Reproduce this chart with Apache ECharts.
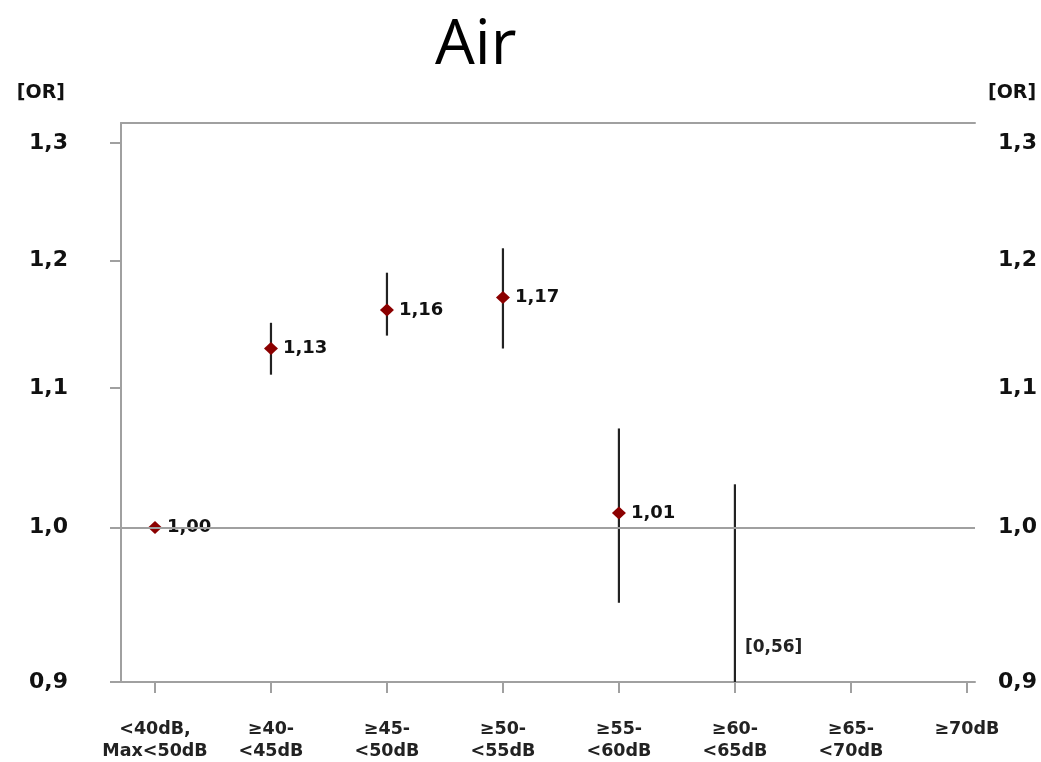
<!DOCTYPE html>
<html>
<head>
<meta charset="utf-8">
<script src="https://cdn.jsdelivr.net/npm/echarts@6/dist/echarts.min.js"></script>
<style>html,body{margin:0;padding:0;background:#fff;}#c{width:1041px;height:762px;}</style>
</head>
<body>
<div id="c"></div>
<script>
// ---- data ----
const categories = ['<40dB,\nMax<50dB', '≥40-\n<45dB', '≥45-\n<50dB', '≥50-\n<55dB', '≥55-\n<60dB', '≥60-\n<65dB', '≥65-\n<70dB', '≥70dB'];
const orValues = [1.00, 1.13, 1.16, 1.17, 1.01, 0.56, null, null];
const ciLow    = [null, 1.11, 1.14, 1.13, 0.95, 0.30, null, null];
const ciHigh   = [null, 1.15, 1.19, 1.21, 1.07, 1.03, null, null];
const yTicks = [0.9, 1.0, 1.1, 1.2, 1.3];
const refValue = 1.0;
const yMin = 0.9, yMax = 1.318;

const fmt = (v, d) => v.toFixed(d).replace('.', ',');
const ln = Math.log;

const pointData = [];
const barData = [];
categories.forEach((c, i) => {
  const v = orValues[i];
  if (v != null && v >= yMin) pointData.push([i, ln(v), v]);
  if (ciLow[i] != null) barData.push([i, ln(ciLow[i]), ln(ciHigh[i]), v]);
});

const chart = echarts.init(document.getElementById('c'));
const tickFont = { fontFamily: 'DejaVu Sans', fontWeight: 'bold' };
chart.setOption({
  animation: false,
  backgroundColor: '#fff',
  title: {
    text: 'Air', left: 430, top: 10,
    textStyle: { fontFamily: 'Open Sans', fontSize: 63, fontWeight: 'normal', color: '#000' }
  },
  grid: { left: 121, right: 66, top: 123, bottom: 76 },
  xAxis: [{
    type: 'value', position: 'bottom', min: -0.293, max: 7.07,
    axisLine: { show: true, onZero: false, lineStyle: { color: '#a0a0a0', width: 2 } },
    axisTick: { show: true, length: 11, customValues: categories.map((c, i) => i), lineStyle: { color: '#a0a0a0', width: 2 } },
    axisLabel: {
      customValues: categories.map((c, i) => i),
      formatter: v => categories[Math.round(v)],
      margin: 36, fontSize: 17.5, lineHeight: 22, color: '#222', ...tickFont
    },
    splitLine: { show: false }
  }, {
    type: 'value', position: 'top', min: -0.293, max: 7.07,
    axisLine: { show: true, onZero: false, lineStyle: { color: '#a0a0a0', width: 2 } },
    axisTick: { show: false }, axisLabel: { show: false }, splitLine: { show: false }
  }],
  yAxis: [{
    type: 'value', position: 'left', min: ln(yMin), max: ln(yMax),
    name: '[OR]', nameLocation: 'end', nameGap: 20,
    nameTextStyle: { fontSize: 19, color: '#111', align: 'right', padding: [0, 56, 0, 0], ...tickFont },
    axisLine: { show: true, onZero: false, lineStyle: { color: '#a0a0a0', width: 2 } },
    axisTick: { show: true, length: 11, customValues: yTicks.map(ln), lineStyle: { color: '#a0a0a0', width: 2 } },
    axisLabel: { customValues: yTicks.map(ln), formatter: v => fmt(Math.exp(v), 1), margin: 53, fontSize: 22, color: '#111', ...tickFont },
    splitLine: { show: false }
  }, {
    type: 'value', position: 'right', min: ln(yMin), max: ln(yMax),
    name: '[OR]', nameLocation: 'end', nameGap: 20,
    nameTextStyle: { fontSize: 19, color: '#111', align: 'left', padding: [0, 0, 0, 13], ...tickFont },
    axisLine: { show: false, onZero: false }, axisTick: { show: false },
    axisLabel: { customValues: yTicks.map(ln), formatter: v => fmt(Math.exp(v), 1), margin: 23, fontSize: 22, color: '#111', ...tickFont },
    splitLine: { show: false }
  }],
  series: [{
    type: 'line',
    z: 1,
    data: [],
    markLine: {
      silent: true, symbol: 'none',
      label: { show: false },
      lineStyle: { color: '#a0a0a0', width: 2, type: 'solid' },
      data: [{ yAxis: ln(refValue) }]
    }
  }, {
    type: 'custom',
    z: 2,
    data: barData,
    renderItem: (params, api) => {
      const x = api.value(0);
      const top = api.coord([x, api.value(2)]);
      const bot = api.coord([x, api.value(1)]);
      const cs = params.coordSys;
      const y1 = Math.max(cs.y, top[1]);
      const y2 = Math.min(cs.y + cs.height, bot[1]);
      const children = [{
        type: 'line',
        shape: { x1: top[0], y1: y1, x2: top[0], y2: y2 },
        style: { stroke: '#222', lineWidth: 2.2 }
      }];
      const v = api.value(3);
      if (v < yMin) {
        children.push({
          type: 'text',
          style: { text: '[' + fmt(v, 2) + ']', x: top[0] + 10, y: cs.y + cs.height - 34,
                   fill: '#222', font: 'bold 17px "DejaVu Sans"', verticalAlign: 'middle', align: 'left' }
        });
      }
      return { type: 'group', children: children };
    }
  }, {
    type: 'scatter',
    z: 3,
    data: pointData,
    symbol: 'diamond',
    symbolSize: [14, 13],
    itemStyle: { color: '#8b0000', opacity: 1 },
    label: {
      show: true, position: 'right', distance: 5,
      formatter: p => fmt(p.value[2], 2),
      fontSize: 18, color: '#111', ...tickFont
    },
    emphasis: { disabled: true }
  }]
});
</script>
</body>
</html>
